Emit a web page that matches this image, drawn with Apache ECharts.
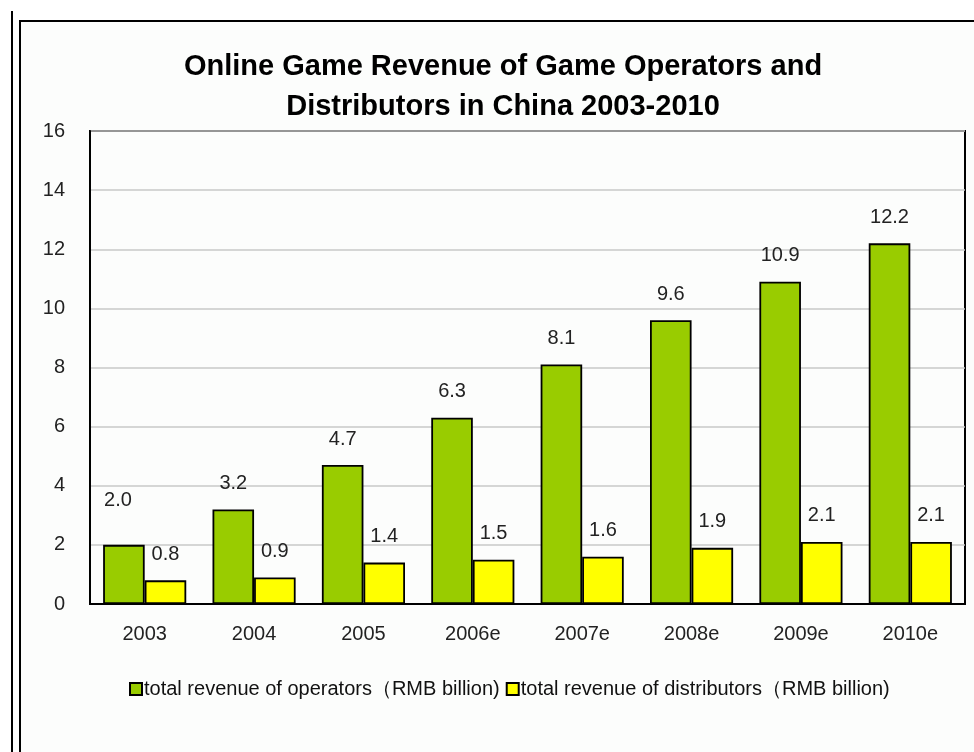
<!DOCTYPE html>
<html>
<head>
<meta charset="utf-8">
<script src="https://cdn.jsdelivr.net/npm/echarts@6/dist/echarts.min.js"></script>
<style>
  html, body { margin: 0; padding: 0; background: #ffffff; }
  #chart { width: 974px; height: 752px; }
</style>
</head>
<body>
<div id="chart"></div>
<script>
// Years on the category axis ("e" = estimate)
const years = ['2003', '2004', '2005', '2006e', '2007e', '2008e', '2009e', '2010e'];
// Revenue in RMB billion
const operatorRevenue = [2.0, 3.2, 4.7, 6.3, 8.1, 9.6, 10.9, 12.2];
const distributorRevenue = [0.8, 0.9, 1.4, 1.5, 1.6, 1.9, 2.1, 2.1];
const seriesNames = [
  'total revenue of operators（RMB billion)',
  'total revenue of distributors（RMB billion)'
];

const FONT = '"Liberation Sans", Arial, sans-serif';
const chart = echarts.init(document.getElementById('chart'));

// first operator label sits a little higher and further left than the rest
const operatorData = operatorRevenue.map((v, i) =>
  i === 0 ? { value: v, label: { offset: [-6, -18] } } : v);

const valueLabel = {
  show: true, position: 'top', distance: 16,
  formatter: p => p.value.toFixed(1),
  fontFamily: FONT, fontSize: 20, color: '#222'
};

chart.setOption({
  backgroundColor: '#ffffff',
  animation: false,
  graphic: [
    { type: 'rect', z: -10, silent: true,
      shape: { x: 20, y: 21, width: 1000, height: 800 },
      style: { fill: '#fcfdfc', stroke: '#000', lineWidth: 2 } },
    { type: 'line', silent: true,
      shape: { x1: 12, y1: 11, x2: 12, y2: 760 },
      style: { stroke: '#000', lineWidth: 2 } }
  ],
  title: {
    text: 'Online Game Revenue of Game Operators and\nDistributors in China 2003-2010',
    left: 498, top: 42, textAlign: 'center',
    textStyle: { fontFamily: FONT, fontSize: 29, fontWeight: 'bold', color: '#000', lineHeight: 40 }
  },
  legend: {
    bottom: 48, left: 124,
    itemWidth: 12, itemHeight: 12, itemGap: 6,
    icon: 'rect',
    textStyle: { fontFamily: FONT, fontSize: 20, color: '#111', padding: [0, 0, 0, -3] },
    data: seriesNames
  },
  grid: { left: 90, top: 131, right: 9, bottom: 148, containLabel: false,
          show: true, borderColor: '#000', borderWidth: 2 },
  xAxis: {
    type: 'category', data: years,
    axisLine: { show: true, lineStyle: { color: '#000', width: 2 } },
    axisTick: { show: false },
    axisLabel: { fontFamily: FONT, fontSize: 20, color: '#222', margin: 20 }
  },
  yAxis: {
    type: 'value', min: 0, max: 16, interval: 2,
    axisLine: { show: true, lineStyle: { color: '#000', width: 2 } },
    axisTick: { show: false },
    splitLine: { lineStyle: { color: '#c8c8c8', width: 1.5 } },
    axisLabel: { fontFamily: FONT, fontSize: 20, color: '#222', margin: 25 }
  },
  series: [
    {
      name: seriesNames[0], type: 'bar', data: operatorData,
      barGap: '0%', barCategoryGap: '24%',
      itemStyle: { color: '#99cc00', borderColor: '#000', borderWidth: 1.8 },
      label: valueLabel
    },
    {
      name: seriesNames[1], type: 'bar', data: distributorRevenue,
      barGap: '0%', barCategoryGap: '24%',
      itemStyle: { color: '#ffff00', borderColor: '#000', borderWidth: 1.8 },
      label: valueLabel
    }
  ]
});
</script>
</body>
</html>
